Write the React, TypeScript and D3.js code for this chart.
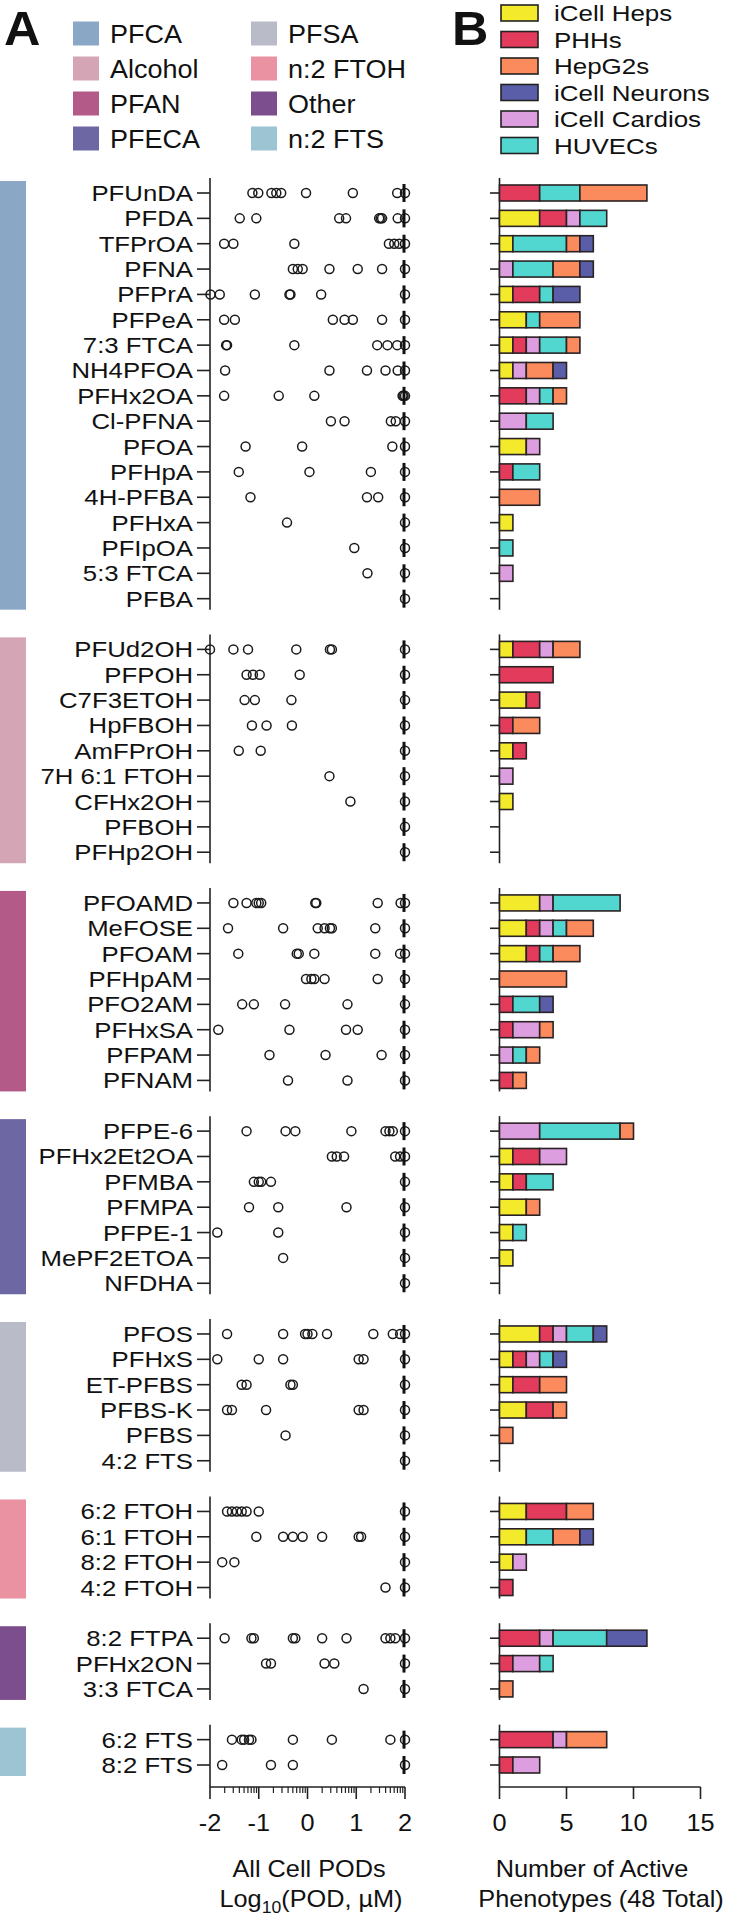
import * as d3 from "d3";

const FONT = "'Liberation Sans', Arial, Helvetica, sans-serif";

const groupNames = ["PFCA", "Alcohol", "PFAN", "PFECA", "PFSA", "n:2 FTOH", "Other", "n:2 FTS"];
const groupColors = ["#8aa7c6", "#d3a5b5", "#b45a88", "#6d68a3", "#b9bcc8", "#ea92a2", "#7c4e8e", "#9cc4d2"];

const pfcaNames = ["PFUnDA", "PFDA", "TFPrOA", "PFNA", "PFPrA", "PFPeA", "7:3 FTCA", "NH4PFOA", "PFHx2OA", "Cl-PFNA", "PFOA", "PFHpA", "4H-PFBA", "PFHxA", "PFIpOA", "5:3 FTCA", "PFBA"];
const alcoholNames = ["PFUd2OH", "PFPOH", "C7F3ETOH", "HpFBOH", "AmFPrOH", "7H 6:1 FTOH", "CFHx2OH", "PFBOH", "PFHp2OH"];
const pfanNames = ["PFOAMD", "MeFOSE", "PFOAM", "PFHpAM", "PFO2AM", "PFHxSA", "PFPAM", "PFNAM"];
const pfecaNames = ["PFPE-6", "PFHx2Et2OA", "PFMBA", "PFMPA", "PFPE-1", "MePF2ETOA", "NFDHA"];
const pfsaNames = ["PFOS", "PFHxS", "ET-PFBS", "PFBS-K", "PFBS", "4:2 FTS"];
const ftohNames = ["6:2 FTOH", "6:1 FTOH", "8:2 FTOH", "4:2 FTOH"];
const otherNames = ["8:2 FTPA", "PFHx2ON", "3:3 FTCA"];
const ftsNames = ["6:2 FTS", "8:2 FTS"];

// log10 POD (uM) per compound; 2 = inactive at top concentration
const pfcaPods = [
  [-1.13, -1.01, -0.74, -0.64, -0.54, -0.03, 0.93, 1.84, 2],
  [-1.39, -1.05, 0.65, 0.79, 1.47, 1.5, 1.53, 1.85, 2],
  [-1.71, -1.52, -0.27, 1.67, 1.78, 1.88, 2],
  [-0.3, -0.2, -0.1, 0.45, 1.03, 1.53, 2],
  [-1.99, -1.8, -1.08, -0.37, -0.35, 0.28, 2],
  [-1.71, -1.49, 0.52, 0.76, 0.93, 1.53, 2],
  [-1.67, -1.65, -0.27, 1.43, 1.64, 1.84, 2],
  [-1.69, 0.45, 1.22, 1.6, 1.85, 2],
  [-1.71, -0.59, 0.14, 1.95, 1.97, 2],
  [0.48, 0.76, 1.71, 1.81, 2],
  [-1.27, -0.11, 1.74, 2],
  [-1.41, 0.04, 1.3, 2],
  [-1.17, 1.22, 1.45, 2],
  [-0.42, 2],
  [0.96, 2],
  [1.23, 2],
  [2],
];
const alcoholPods = [
  [-2.0, -1.52, -1.22, -0.23, 0.46, 0.5, 2],
  [-1.25, -1.12, -0.98, -0.16, 2],
  [-1.29, -1.08, -0.33, 2],
  [-1.14, -0.84, -0.32, 2],
  [-1.41, -0.96, 2],
  [0.45, 2],
  [0.88, 2],
  [2],
  [2],
];
const pfanPods = [
  [-1.52, -1.25, -1.05, -1.0, -0.95, 0.16, 0.18, 1.44, 1.91, 2],
  [-1.63, -0.5, 0.21, 0.35, 0.46, 0.5, 1.39, 2],
  [-1.42, -0.22, -0.18, 0.14, 1.39, 1.9, 2],
  [-0.03, 0.08, 0.14, 0.35, 1.44, 2],
  [-1.34, -1.1, -0.46, 0.82, 2],
  [-1.83, -0.37, 0.79, 1.03, 2],
  [-0.78, 0.37, 1.52, 2],
  [-0.4, 0.82, 2],
];
const pfecaPods = [
  [-1.25, -0.45, -0.25, 0.9, 1.6, 1.68, 1.75, 2],
  [0.5, 0.6, 0.75, 1.8, 1.9, 2],
  [-1.1, -1.0, -0.95, -0.75, 2],
  [-1.2, -0.6, 0.8, 2],
  [-1.85, -0.6, 2],
  [-0.5, 2],
  [2],
];
const pfsaPods = [
  [-1.65, -0.5, -0.05, 0.0, 0.1, 0.4, 1.35, 1.75, 1.9, 2],
  [-1.85, -1.0, -0.5, 1.05, 1.15, 2],
  [-1.35, -1.25, -0.35, -0.3, 2],
  [-1.65, -1.55, -0.85, 1.05, 1.15, 2],
  [-0.45, 2],
  [2],
];
const ftohPods = [
  [-1.65, -1.55, -1.45, -1.35, -1.25, -1.0, 2],
  [-1.05, -0.5, -0.3, -0.1, 0.3, 1.05, 1.1, 2],
  [-1.75, -1.5, 2],
  [1.6, 2],
];
const otherPods = [
  [-1.7, -1.15, -1.1, -0.3, -0.25, 0.3, 0.8, 1.6, 1.7, 1.8, 2],
  [-0.85, -0.75, 0.35, 0.55, 2],
  [1.15, 2],
];
const ftsPods = [
  [-1.55, -1.35, -1.3, -1.2, -1.15, -0.3, 0.5, 1.7, 2],
  [-1.75, -0.75, -0.3, 2],
];

// every row's median sits at the top concentration
const MEDIAN_LOG_POD = 2;

const cellTypes = ["iCell Heps", "PHHs", "HepG2s", "iCell Neurons", "iCell Cardios", "HUVECs"];
const cellColors = ["#f3ea2c", "#e33b5c", "#fb8a5c", "#5a5ea9", "#dc9ede", "#52d7d0"];
// order in which the segments are stacked left to right
const stackKeys = ["iCell Heps", "PHHs", "iCell Cardios", "HUVECs", "HepG2s", "iCell Neurons"];

// active phenotype counts, in stackKeys order
const pfcaCounts = [
  [0, 3, 0, 3, 5, 0], [3, 2, 1, 2, 0, 0], [1, 0, 0, 4, 1, 1], [0, 0, 1, 3, 2, 1],
  [1, 2, 0, 1, 0, 2], [2, 0, 0, 1, 3, 0], [1, 1, 1, 2, 1, 0], [1, 0, 1, 0, 2, 1],
  [0, 2, 1, 1, 1, 0], [0, 0, 2, 2, 0, 0], [2, 0, 1, 0, 0, 0], [0, 1, 0, 2, 0, 0],
  [0, 0, 0, 0, 3, 0], [1, 0, 0, 0, 0, 0], [0, 0, 0, 1, 0, 0], [0, 0, 1, 0, 0, 0],
  [0, 0, 0, 0, 0, 0],
];
const alcoholCounts = [
  [1, 2, 1, 0, 2, 0], [0, 4, 0, 0, 0, 0], [2, 1, 0, 0, 0, 0], [0, 1, 0, 0, 2, 0],
  [1, 1, 0, 0, 0, 0], [0, 0, 1, 0, 0, 0], [1, 0, 0, 0, 0, 0], [0, 0, 0, 0, 0, 0],
  [0, 0, 0, 0, 0, 0],
];
const pfanCounts = [
  [3, 0, 1, 5, 0, 0], [2, 1, 1, 1, 2, 0], [2, 1, 0, 1, 2, 0], [0, 0, 0, 0, 5, 0],
  [0, 1, 0, 2, 0, 1], [0, 1, 2, 0, 1, 0], [0, 0, 1, 1, 1, 0], [0, 1, 0, 0, 1, 0],
];
const pfecaCounts = [
  [0, 0, 3, 6, 1, 0], [1, 2, 2, 0, 0, 0], [1, 1, 0, 2, 0, 0], [2, 0, 0, 0, 1, 0],
  [1, 0, 0, 1, 0, 0], [1, 0, 0, 0, 0, 0], [0, 0, 0, 0, 0, 0],
];
const pfsaCounts = [
  [3, 1, 1, 2, 0, 1], [1, 1, 1, 1, 0, 1], [1, 2, 0, 0, 2, 0], [2, 2, 0, 0, 1, 0],
  [0, 0, 0, 0, 1, 0], [0, 0, 0, 0, 0, 0],
];
const ftohCounts = [[2, 3, 0, 0, 2, 0], [2, 0, 0, 2, 2, 1], [1, 0, 1, 0, 0, 0], [0, 1, 0, 0, 0, 0]];
const otherCounts = [[0, 3, 1, 4, 0, 3], [0, 1, 2, 1, 0, 0], [0, 0, 0, 0, 1, 0]];
const ftsCounts = [[0, 4, 1, 0, 3, 0], [0, 1, 2, 0, 0, 0]];

const podTicks = [-2, -1, 0, 1, 2];
const countTicks = [0, 5, 10, 15];

const groupCompounds = [pfcaNames, alcoholNames, pfanNames, pfecaNames, pfsaNames, ftohNames, otherNames, ftsNames];
const groupPods = [pfcaPods, alcoholPods, pfanPods, pfecaPods, pfsaPods, ftohPods, otherPods, ftsPods];
const groupCounts = [pfcaCounts, alcoholCounts, pfanCounts, pfecaCounts, pfsaCounts, ftohCounts, otherCounts, ftsCounts];

const W = 740;
const H = 1920;
const LEFT_AXIS_X = 210;
const RIGHT_AXIS_X = 499.5;
const AXIS_Y = 1787;
const BAR_H = 16;

const STRETCH = 1.17; // glyphs in the source are a bit wide

const Txt = ({ x, y, size, anchor = "start", stretch = STRETCH, weight = "normal", children }: any) => (
  <text
    transform={`translate(${x},${y}) scale(${stretch},1)`}
    fontSize={size}
    fontFamily={FONT}
    fontWeight={weight}
    textAnchor={anchor}
    fill="#111"
  >
    {children}
  </text>
);

export default function App() {
  // row keys with one blank slot between groups
  const rowKeys: string[] = [];
  groupCompounds.forEach((names, gi) => {
    names.forEach((n) => rowKeys.push(n));
    if (gi < groupCompounds.length - 1) rowKeys.push(`gap-${gi}`);
  });

  const y = d3.scalePoint<string>().domain(rowKeys).range([193, 1765]);
  const xPod = d3.scaleLinear().domain([-2, 2]).range([LEFT_AXIS_X, 405]);
  const xCount = d3.scaleLinear().domain([0, 15]).range([RIGHT_AXIS_X, 700.5]);
  const color = d3.scaleOrdinal<string, string>().domain(cellTypes).range(cellColors);

  const minorTicks = d3.range(-2, 2).flatMap((d) => d3.range(2, 10).map((k) => d + Math.log10(k)));

  const stack = d3.stack<number[]>().keys(stackKeys).value((d, key) => d[stackKeys.indexOf(key)]);

  return (
    <svg width={W} height={H} style={{ position: "absolute", left: 0, top: 0, background: "#fff" }}>
      {/* panel letters */}
      <Txt x={4} y={45} size={48} weight="bold" stretch={1.05}>A</Txt>
      <Txt x={452} y={45} size={48} weight="bold" stretch={1.05}>B</Txt>

      {/* group legend */}
      {groupNames.map((g, i) => {
        const col = Math.floor(i / 4);
        const row = i % 4;
        const sx = col === 0 ? 73 : 251;
        const cy = 33.5 + row * 35;
        return (
          <g key={g}>
            <rect x={sx} y={cy - 12} width={26} height={24} fill={groupColors[i]} />
            <Txt x={sx + 37} y={cy + 9} size={25} stretch={1.08}>{g}</Txt>
          </g>
        );
      })}

      {/* cell type legend */}
      {cellTypes.map((c, i) => {
        const cy = 13 + i * 26.5;
        return (
          <g key={c}>
            <rect x={501} y={cy - 8} width={37} height={16} fill={cellColors[i]} stroke="#222" strokeWidth={1.6} />
            <Txt x={554} y={cy + 8} size={22} stretch={1.18}>{c}</Txt>
          </g>
        );
      })}

      {groupCompounds.map((names, gi) => {
        const y0 = y(names[0])!;
        const y1 = y(names[names.length - 1])!;
        const last = gi === groupCompounds.length - 1;
        return (
          <g key={gi}>
            <rect x={0} y={y0 - 12} width={26} height={y1 - y0 + 23} fill={groupColors[gi]} />
            <line x1={LEFT_AXIS_X} x2={LEFT_AXIS_X} y1={y0 - 15} y2={last ? AXIS_Y : y1 + 11} stroke="#222" strokeWidth={1.6} />
            <line x1={RIGHT_AXIS_X} x2={RIGHT_AXIS_X} y1={y0 - 15} y2={last ? AXIS_Y : y1 + 11} stroke="#222" strokeWidth={1.6} />
            {names.map((n, ri) => {
              const cy = y(n)!;
              const series = stack([groupCounts[gi][ri]]);
              return (
                <g key={n}>
                  <Txt x={193} y={cy + 8} size={22} anchor="end">{n}</Txt>
                  <line x1={197} x2={LEFT_AXIS_X} y1={cy} y2={cy} stroke="#222" strokeWidth={1.6} />
                  <line x1={490} x2={RIGHT_AXIS_X} y1={cy} y2={cy} stroke="#222" strokeWidth={1.6} />
                  {groupPods[gi][ri].map((v, k) => (
                    <circle key={k} cx={xPod(v)} cy={cy} r={4.5} fill="none" stroke="#1a1a1a" strokeWidth={1.5} />
                  ))}
                  <line
                    x1={xPod(MEDIAN_LOG_POD) - 1}
                    x2={xPod(MEDIAN_LOG_POD) - 1}
                    y1={cy - 9}
                    y2={cy + 9}
                    stroke="#111"
                    strokeWidth={3}
                  />
                  {series.map((s) => {
                    const [a, b] = s[0];
                    if (b - a <= 0) return null;
                    return (
                      <rect
                        key={s.key}
                        x={xCount(a)}
                        y={cy - BAR_H / 2}
                        width={xCount(b) - xCount(a)}
                        height={BAR_H}
                        fill={color(s.key)}
                        stroke="#2a2224"
                        strokeWidth={1.6}
                      />
                    );
                  })}
                </g>
              );
            })}
          </g>
        );
      })}

      {/* bottom axis, panel A (log scale) */}
      <line x1={LEFT_AXIS_X} x2={xPod(2)} y1={AXIS_Y} y2={AXIS_Y} stroke="#222" strokeWidth={1.6} />
      {podTicks.map((t) => (
        <g key={t}>
          <line x1={xPod(t)} x2={xPod(t)} y1={AXIS_Y} y2={AXIS_Y + 12} stroke="#222" strokeWidth={1.6} />
          <Txt x={xPod(t)} y={AXIS_Y + 44} size={23} anchor="middle" stretch={1.1}>{t}</Txt>
        </g>
      ))}
      {minorTicks.map((t, i) => (
        <line key={i} x1={xPod(t)} x2={xPod(t)} y1={AXIS_Y} y2={AXIS_Y + 6} stroke="#222" strokeWidth={1.2} />
      ))}
      <Txt x={309} y={1877} size={23} anchor="middle" stretch={1.1}>All Cell PODs</Txt>
      <text
        transform={`translate(311,1907) scale(1.1,1)`}
        fontSize={23}
        fontFamily={FONT}
        textAnchor="middle"
        fill="#111"
      >
        Log<tspan fontSize={16} dy={6}>10</tspan>
        <tspan dy={-6}>(POD, µM)</tspan>
      </text>

      {/* bottom axis, panel B */}
      <line x1={RIGHT_AXIS_X} x2={xCount(15)} y1={AXIS_Y} y2={AXIS_Y} stroke="#222" strokeWidth={1.6} />
      {countTicks.map((t) => (
        <g key={t}>
          <line x1={xCount(t)} x2={xCount(t)} y1={AXIS_Y} y2={AXIS_Y + 12} stroke="#222" strokeWidth={1.6} />
          <Txt x={xCount(t)} y={AXIS_Y + 44} size={23} anchor="middle" stretch={1.1}>{t}</Txt>
        </g>
      ))}
      <Txt x={592} y={1877} size={23} anchor="middle" stretch={1.1}>Number of Active</Txt>
      <Txt x={601} y={1907} size={23} anchor="middle" stretch={1.1}>Phenotypes (48 Total)</Txt>
    </svg>
  );
}
